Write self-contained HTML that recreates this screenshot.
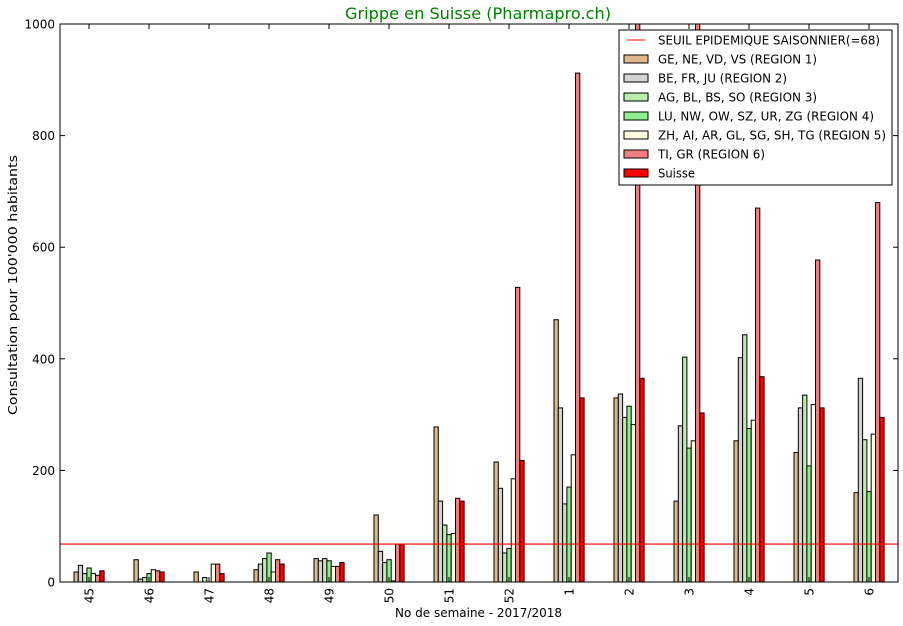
<!DOCTYPE html>
<html><head><meta charset="utf-8"><style>
body{margin:0;background:#fff;}
svg{display:block;font-family:"DejaVu Sans","Liberation Sans",sans-serif;}
</style></head><body>
<svg id="c" width="903" height="626" xmlns="http://www.w3.org/2000/svg"></svg>
<script>
const s=document.getElementById('c');
const X0=60,X1=898,Y0=582,Y1=24,K=0.558;
const labels=["45","46","47","48","49","50","51","52","1","2","3","4","5","6"];
const data=[
[18,30,15,25,15,12,20],[40,5,8,15,22,20,18],[18,0,8,0,32,32,15],[22,32,42,52,18,40,32],
[42,38,42,38,28,28,35],[120,55,35,40,2,68,68],[278,145,102,85,87,150,145],
[215,168,52,60,185,528,218],[470,312,140,170,228,912,330],[330,337,295,315,282,1100,365],
[145,280,403,240,253,1100,303],[253,402,443,275,290,670,368],[232,312,335,208,318,577,312],
[160,365,255,162,265,680,295]];
const cols=["#deb887","#d3d3d3","#b8eeaa","#90ee90","#ffffe0","#f08080","#ff0000"];
let h='<defs><clipPath id="cp"><rect x="60" y="24" width="838" height="558"/></clipPath></defs>';
h+='<g clip-path="url(#cp)">';
const bw=4.3;
data.forEach((g,i)=>{const cx=89+60*i;g.forEach((v,j)=>{const x=cx-15+j*bw;const y=Y0-v*K;
h+=`<rect x="${x.toFixed(1)}" y="${y.toFixed(1)}" width="${bw}" height="${(v*K).toFixed(1)}" fill="${cols[j]}" stroke="#000" stroke-width="1"/>`;});});
h+=`<line x1="60" x2="898" y1="${Y0-68*K}" y2="${Y0-68*K}" stroke="#f00" stroke-width="1.2"/>`;
h+='</g>';
h+='<rect x="60" y="24" width="838" height="558" fill="none" stroke="#000" stroke-width="1"/>';
for(let v=0;v<=1000;v+=200){const y=Y0-v*K;
h+=`<line x1="60" x2="65" y1="${y}" y2="${y}" stroke="#000"/><line x1="893" x2="898" y1="${y}" y2="${y}" stroke="#000"/>`;
h+=`<text x="55" y="${y+4.5}" font-size="12" text-anchor="end">${v}</text>`;}
labels.forEach((l,i)=>{const x=89+60*i;
h+=`<line x1="${x}" x2="${x}" y1="582" y2="577" stroke="#000"/><line x1="${x}" x2="${x}" y1="24" y2="29" stroke="#000"/>`;
h+=`<text transform="translate(${x+4.5},588) rotate(-90)" font-size="12" text-anchor="end">${l}</text>`;});
h+='<text x="345" y="19" font-size="16" fill="#008000" textLength="266" lengthAdjust="spacingAndGlyphs">Grippe en Suisse (Pharmapro.ch)</text>';
h+='<text x="395" y="617" font-size="12" textLength="167" lengthAdjust="spacingAndGlyphs">No de semaine - 2017/2018</text>';
h+='<text transform="translate(17,415) rotate(-90)" font-size="12" textLength="260" lengthAdjust="spacingAndGlyphs">Consultation pour 100\'000 habitants</text>';
h+='<rect x="619" y="30" width="273" height="155" fill="#fff" stroke="#000"/>';
const names=["GE, NE, VD, VS (REGION 1)","BE, FR, JU (REGION 2)","AG, BL, BS, SO (REGION 3)","LU, NW, OW, SZ, UR, ZG (REGION 4)","ZH, AI, AR, GL, SG, SH, TG (REGION 5)","TI, GR (REGION 6)","Suisse"];
const lens=[159,129,159,216,228,107,37];
h+='<line x1="627" x2="645" y1="40" y2="40" stroke="#f00"/><text x="658" y="44.5" font-size="12" textLength="222" lengthAdjust="spacingAndGlyphs">SEUIL EPIDEMIQUE SAISONNIER(=68)</text>';
names.forEach((n,j)=>{const y=59+19*j;
h+=`<rect x="624" y="${y-4}" width="24" height="8" fill="${cols[j]}" stroke="#000"/><text x="658" y="${y+4.5}" font-size="12" textLength="${lens[j]}" lengthAdjust="spacingAndGlyphs">${n}</text>`;});
s.innerHTML=h;
</script>
</body></html>
